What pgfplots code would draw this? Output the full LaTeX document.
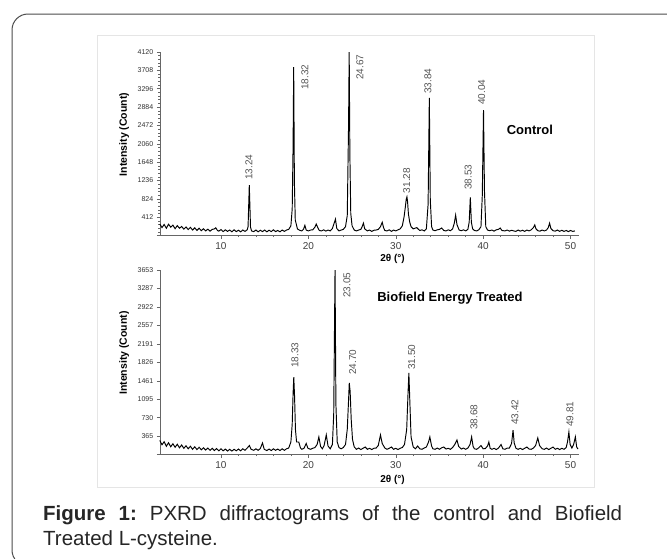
\documentclass[border=0pt]{standalone}
\usepackage{fontspec}
\setmainfont{Liberation Sans}
\usepackage{pgfplots}
\usepackage{pgfplotstable}
\pgfplotsset{compat=1.18}

% PXRD, control sample
\pgfplotstableread{
x y
3.00 260
3.25 180
3.50 250
3.75 165
4.00 255
4.25 190
4.50 235
4.75 155
5.00 225
5.25 165
5.50 205
5.75 145
6.00 195
6.25 135
6.50 185
6.75 125
7.00 175
7.25 115
7.50 165
7.75 110
8.00 155
8.25 105
8.50 145
8.75 100
9.00 140
9.25 150
9.40 175
9.60 115
9.75 100
10.00 135
10.25 90
10.50 130
10.75 95
11.00 125
11.25 85
11.50 130
11.75 90
12.00 120
12.25 85
12.50 125
12.75 95
13.00 130
13.10 200
13.24 1135
13.38 190
13.50 105
13.75 90
14.00 125
14.25 85
14.50 120
14.75 90
15.00 125
15.25 85
15.50 120
15.75 90
16.00 130
16.25 90
16.50 115
16.75 85
17.00 125
17.25 95
17.50 125
17.75 140
18.00 220
18.15 600
18.25 2000
18.32 3783
18.40 1200
18.50 350
18.75 150
19.00 120
19.25 105
19.45 145
19.60 230
19.75 125
20.00 105
20.25 125
20.50 130
20.75 190
20.90 260
21.10 170
21.25 115
21.50 105
21.75 130
22.00 100
22.25 125
22.50 105
22.75 160
22.95 280
23.10 370
23.25 160
23.50 105
23.75 125
24.00 140
24.25 200
24.45 450
24.60 2500
24.67 4120
24.75 1800
24.85 500
25.00 220
25.25 125
25.50 105
25.75 125
26.00 140
26.15 200
26.30 280
26.45 150
26.75 105
27.00 125
27.25 95
27.50 120
27.75 125
28.00 140
28.25 200
28.45 300
28.60 180
28.75 115
29.00 105
29.25 130
29.50 95
29.75 125
30.00 105
30.25 130
30.50 150
30.75 220
30.95 420
31.10 650
31.20 820
31.28 870
31.35 760
31.45 480
31.60 300
31.75 200
32.00 150
32.25 170
32.40 180
32.60 140
32.75 115
33.00 130
33.25 105
33.50 150
33.70 700
33.84 3088
33.95 800
34.10 200
34.25 125
34.50 110
34.75 130
35.00 140
35.25 170
35.50 115
35.75 105
36.00 130
36.25 110
36.50 150
36.70 280
36.85 460
37.00 250
37.25 125
37.50 110
37.75 130
38.00 105
38.25 140
38.40 300
38.53 860
38.65 300
38.80 150
39.00 115
39.25 105
39.50 130
39.75 200
39.90 900
40.04 2818
40.15 1000
40.30 200
40.50 125
40.75 110
41.00 125
41.25 100
41.50 130
41.75 140
41.95 170
42.15 115
42.50 105
42.75 125
43.00 100
43.25 120
43.50 105
43.75 95
44.00 125
44.25 100
44.50 120
44.75 95
45.00 125
45.25 105
45.50 130
45.75 180
45.90 240
46.05 150
46.25 110
46.50 100
46.75 125
47.00 105
47.25 125
47.45 180
47.60 280
47.75 160
48.00 110
48.25 100
48.50 125
48.75 95
49.00 120
49.25 95
49.50 115
49.75 90
50.00 115
50.25 95
50.50 105
}\control

% PXRD, biofield energy treated sample
\pgfplotstableread{
x y
3.00 280
3.25 195
3.50 255
3.75 165
4.00 235
4.25 155
4.50 215
4.75 145
5.00 205
5.25 135
5.50 190
5.75 125
6.00 175
6.25 115
6.50 165
6.75 105
7.00 155
7.25 100
7.50 145
7.75 95
8.00 135
8.25 90
8.50 130
8.75 85
9.00 125
9.25 80
9.50 120
9.75 75
10.00 115
10.25 75
10.50 110
10.75 70
11.00 105
11.25 70
11.50 105
11.75 75
12.00 110
12.25 75
12.50 115
12.75 85
13.00 130
13.25 180
13.45 105
13.75 85
14.00 115
14.25 85
14.50 120
14.75 230
14.95 105
15.25 80
15.50 110
15.75 80
16.00 115
16.25 85
16.50 110
16.75 80
17.00 115
17.25 85
17.50 115
17.75 130
18.00 250
18.15 600
18.25 1200
18.33 1535
18.42 1150
18.52 500
18.65 250
18.90 250
19.10 130
19.25 105
19.50 125
19.75 220
19.95 125
20.25 105
20.50 125
20.75 140
21.00 200
21.20 350
21.40 160
21.60 115
21.80 180
22.05 390
22.25 170
22.50 115
22.75 200
22.90 800
23.05 3653
23.15 1000
23.30 250
23.50 140
23.75 115
24.00 140
24.25 200
24.45 500
24.58 1000
24.68 1417
24.78 1250
24.90 700
25.05 300
25.25 150
25.50 105
25.75 130
26.00 100
26.25 125
26.50 150
26.75 105
27.00 125
27.25 100
27.50 125
27.75 130
28.00 180
28.25 390
28.45 220
28.75 130
29.00 105
29.25 125
29.50 150
29.75 105
30.00 125
30.25 100
30.50 125
30.75 140
31.00 200
31.25 500
31.40 1200
31.50 1615
31.60 1100
31.75 350
32.00 150
32.25 115
32.50 170
32.75 115
33.00 105
33.25 130
33.50 150
33.75 250
33.90 350
34.10 170
34.25 115
34.50 105
34.75 130
35.00 105
35.25 135
35.50 150
35.75 110
36.00 125
36.25 105
36.50 140
36.75 200
37.00 290
37.20 160
37.50 110
37.75 130
38.00 105
38.25 130
38.50 200
38.68 350
38.85 160
39.00 115
39.25 105
39.50 135
39.75 180
40.00 115
40.25 120
40.50 170
40.65 250
40.80 125
41.00 105
41.25 125
41.50 100
41.75 130
42.05 200
42.25 115
42.50 105
42.75 130
43.00 130
43.25 220
43.42 486
43.55 230
43.75 125
44.00 105
44.25 125
44.50 100
44.75 125
45.00 150
45.25 110
45.50 105
45.75 130
46.00 180
46.25 330
46.45 180
46.75 115
47.00 105
47.25 130
47.50 100
47.75 125
48.00 150
48.25 105
48.50 125
48.75 100
49.00 125
49.25 105
49.50 140
49.65 250
49.81 447
49.95 200
50.15 130
50.35 200
50.55 350
50.70 150
50.85 110
}\treated

\definecolor{axgray}{HTML}{666666}
\definecolor{lblgray}{HTML}{555555}

\pgfplotsset{
  xrd/.style={
    scale only axis, width=419.5pt,
    xmin=3, xmax=51, ymin=0,
    axis lines=left, axis line style={axgray, line width=0.6pt, -},
    tick align=outside, tick style={axgray, line width=0.5pt},
    major tick length=3pt, minor tick length=1.5pt,
    xtick={10,20,30,40,50}, minor x tick num=4, minor y tick num=4,
    /pgf/number format/assume math mode=true,
    /pgf/number format/1000 sep={},
    xticklabel style={font=\fontsize{10}{10}\selectfont, text=black!75},
    yticklabel style={font=\fontsize{7}{7}\selectfont, text=black!80},
    ylabel={Intensity (Count)},
    ylabel style={at={(axis description cs:-0.085,0.55)}, anchor=center,
      font=\fontsize{10.5}{10.5}\selectfont\bfseries},
    xlabel={2θ (°)},
    clip=false,
  },
}
\tikzset{
  pk/.style={rotate=90, anchor=west, inner sep=0pt,
    font=\fontsize{10}{10}\selectfont, text=lblgray},
}

\begin{document}
\begin{tikzpicture}
\path[use as bounding box, fill=white] (0pt,0pt) rectangle (667pt,-558pt);
\draw[black!70, line width=1pt, rounded corners=16pt] (12pt,-14pt) rectangle (700pt,-566pt);
\draw[black!10, line width=0.6pt] (97pt,-35pt) rectangle (594pt,-487pt);

% control
\begin{axis}[xrd,
  at={(159.8pt,-235.6pt)}, anchor=south west,
  height=183.6pt, ymax=4120,
  ytick={0,412,824,1236,1648,2060,2472,2884,3296,3708,4120},
  yticklabels={,412,824,1236,1648,2060,2472,2884,3296,3708,4120},
  xlabel style={at={(axis description cs:0.555,0)}, anchor=center, yshift=-23.4pt,
    font=\fontsize{10}{10}\selectfont\bfseries},
]
\addplot[black, line width=0.95pt] table[x=x, y=y] {\control};
\node[pk] at (axis cs:13.21,1248) {13.24};
\node[pk] at (axis cs:19.60,3266) {18.32};
\node[pk] at (axis cs:25.90,3490) {24.67};
\node[pk] at (axis cs:31.24,951) {31.28};
\node[pk] at (axis cs:33.68,3178) {33.84};
\node[pk] at (axis cs:38.28,1023) {38.53};
\node[pk] at (axis cs:39.83,2930) {40.04};
\node[font=\fontsize{13}{13}\selectfont\bfseries] at (axis cs:45.35,2370) {Control};
\end{axis}

% biofield energy treated
\begin{axis}[xrd,
  at={(159.8pt,-454.6pt)}, anchor=south west,
  height=184.6pt, ymax=3653,
  ytick={0,365,730,1095,1461,1826,2191,2557,2922,3287,3653},
  yticklabels={,365,730,1095,1461,1826,2191,2557,2922,3287,3653},
  xlabel style={at={(axis description cs:0.555,0)}, anchor=center, yshift=-25.4pt,
    font=\fontsize{10}{10}\selectfont\bfseries},
]
\addplot[black, line width=0.95pt] table[x=x, y=y] {\treated};
\node[pk] at (axis cs:18.47,1713) {18.33};
\node[pk] at (axis cs:24.40,3099) {23.05};
\node[pk] at (axis cs:25.07,1575) {24.70};
\node[pk] at (axis cs:31.82,1674) {31.50};
\node[pk] at (axis cs:38.95,487) {38.68};
\node[pk] at (axis cs:43.64,586) {43.42};
\node[pk] at (axis cs:49.93,546) {49.81};
\node[font=\fontsize{13}{13}\selectfont\bfseries] at (axis cs:36.2,3099) {Biofield Energy Treated};
\end{axis}

\node[anchor=base west, text width=579pt, align=justify, inner sep=0pt,
  font=\fontsize{20.5}{25}\selectfont, text=black!85] at (43pt,-520pt)
  {\frenchspacing\hyphenpenalty=10000 \tolerance=10000 \textbf{Figure 1:} PXRD diffractograms of the control and Biofield Treated L-cysteine.};
\end{tikzpicture}
\end{document}
